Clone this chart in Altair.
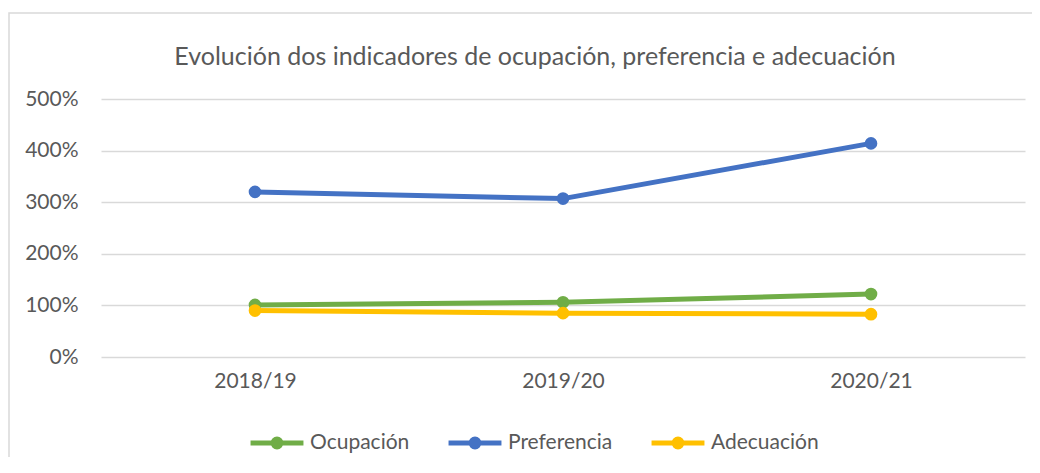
import altair as alt
import pandas as pd

years = ["2018/19", "2019/20", "2020/21"]
series = ["Ocupación", "Preferencia", "Adecuación"]
ocupacion = [1.01, 1.06, 1.22]
preferencia = [3.20, 3.07, 4.14]
adecuacion = [0.90, 0.85, 0.83]
colors = ["#70AD47", "#4472C4", "#FFC000"]
y_ticks = [0, 1, 2, 3, 4, 5]
title_text = "Evolución dos indicadores de ocupación, preferencia e adecuación"

rows = []
for name, vals in zip(series, [ocupacion, preferencia, adecuacion]):
    for yr, v in zip(years, vals):
        rows.append({"curso": yr, "serie": name, "valor": v})
df = pd.DataFrame(rows)

FONT = "Lato"
TEXT = "#595959"
GRID = "#D9D9D9"

sym_path = "M-1,0L1,0M-0.15,0A0.15,0.15,0,1,0,0.15,0A0.15,0.15,0,1,0,-0.15,0Z"

legend = alt.Legend(
    title=None, orient="none", legendX=147, legendY=315, direction="horizontal",
    symbolType=sym_path, symbolSize=2800, symbolStrokeWidth=5,
    labelFontSize=21, labelFont=FONT, labelColor=TEXT, labelOffset=4,
    columnPadding=28,
)

x = alt.X("curso:N", sort=years, scale=alt.Scale(type="point", padding=0.5),
          axis=alt.Axis(title=None, labelAngle=0, domain=False, ticks=False, grid=False,
                        labelPadding=13, labelFontSize=21, labelColor=TEXT, labelFont=FONT))
y = alt.Y("valor:Q", scale=alt.Scale(domain=[0, 5], nice=False),
          axis=alt.Axis(title=None, values=y_ticks, format=".0%", domain=False, ticks=False,
                        grid=True, gridColor=GRID, gridWidth=1.3, labelPadding=23,
                        labelFontSize=21, labelColor=TEXT, labelFont=FONT))
color = alt.Color("serie:N", sort=series, scale=alt.Scale(domain=series, range=colors), legend=legend)

base = alt.Chart(df)
lines = base.mark_line(strokeWidth=5, strokeJoin="round", strokeCap="round").encode(x=x, y=y, color=color)
points = base.mark_point(filled=True, size=160, opacity=1).encode(x=x, y=y, color=color)

border = alt.Chart(pd.DataFrame({"a": [0]})).mark_rect(
    fill="transparent", stroke=GRID, strokeWidth=1.5
).encode(x=alt.value(-92), x2=alt.value(1100), y=alt.value(-86), y2=alt.value(600))

chart = alt.layer(border, lines, points).properties(
    width=924, height=258,
    padding={"left": 93, "top": 91, "right": 7, "bottom": 100},
    autosize="none",
    background="white",
    title=alt.TitleParams(text=title_text, fontSize=25, font=FONT, color=TEXT,
                          fontWeight="normal", anchor="middle", dx=-28, offset=-57.5),
).configure_view(strokeWidth=0)

chart.save("out.html", embed_options={"renderer": "svg", "actions": False})
